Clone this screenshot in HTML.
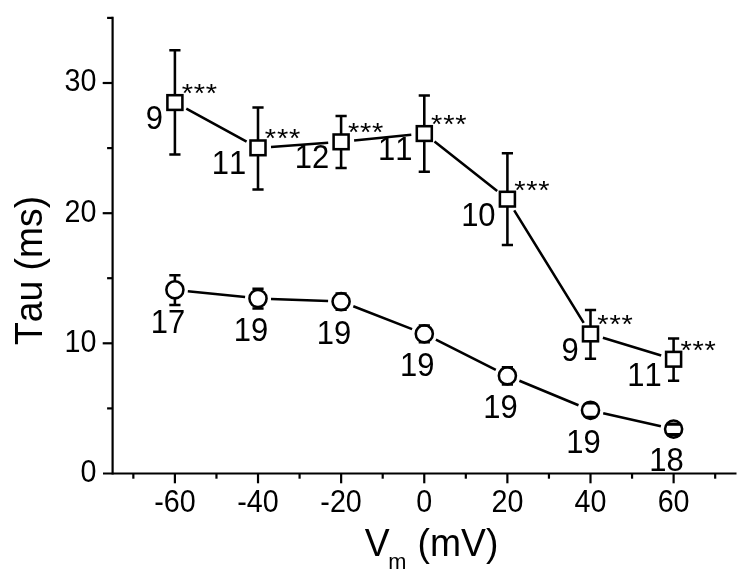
<!DOCTYPE html>
<html><head><meta charset="utf-8"><title>Tau vs Vm</title>
<style>html,body{margin:0;padding:0;background:#fff;}svg{display:block;}text{font-family:"Liberation Sans",Arial,sans-serif;fill:#000;font-kerning:none;}</style></head><body>
<svg width="750" height="579" viewBox="0 0 750 579">
<rect width="750" height="579" fill="#fff"/>
<g stroke="#000" stroke-width="2.2" fill="none" stroke-linecap="butt">
<path d="M112.6 16.8V474.6"/>
<path d="M103.0 473.5H736.5"/>
<path d="M107.1 408.4H112.6"/>
<path d="M102.7 343.3H112.6"/>
<path d="M107.1 278.2H112.6"/>
<path d="M102.7 213.2H112.6"/>
<path d="M107.1 148.1H112.6"/>
<path d="M102.7 83.0H112.6"/>
<path d="M107.1 17.9H112.6"/>
<path d="M133.34 473.5V478.7"/>
<path d="M174.90 473.5V483.3"/>
<path d="M216.46 473.5V478.7"/>
<path d="M258.02 473.5V483.3"/>
<path d="M299.58 473.5V478.7"/>
<path d="M341.14 473.5V483.3"/>
<path d="M382.70 473.5V478.7"/>
<path d="M424.26 473.5V483.3"/>
<path d="M465.82 473.5V478.7"/>
<path d="M507.38 473.5V483.3"/>
<path d="M548.94 473.5V478.7"/>
<path d="M590.50 473.5V483.3"/>
<path d="M632.06 473.5V478.7"/>
<path d="M673.62 473.5V483.3"/>
<path d="M715.18 473.5V478.7"/>
</g>
<g stroke="#000" stroke-width="2.55" fill="none">
<path d="M186.3 108.7L246.6 141.6M271.0 146.9L328.2 142.7M354.1 140.5L411.3 134.8M434.5 141.6L497.2 191.1M514.2 210.3L583.7 322.9M602.9 337.8L661.2 355.5"/>
<path d="M187.8 291.2L245.1 297.1M271.0 299.0L328.1 301.1M353.3 306.3L412.1 329.1M435.9 339.7L495.8 369.9M519.4 380.8L578.5 405.3M603.2 413.2L660.9 426.2"/>
<path d="M174.9 50.2V154.4"/>
<path d="M258.0 107.6V189.4"/>
<path d="M341.1 116.0V168.1"/>
<path d="M424.3 95.4V171.7"/>
<path d="M507.4 153.2V245.1"/>
<path d="M590.5 310.0V358.8"/>
<path d="M673.6 338.5V380.7"/>
<path d="M174.9 275.2V305.0"/>
<path d="M258.0 288.8V308.4"/>
<path d="M341.1 293.4V309.8"/>
<path d="M424.3 325.4V342.3"/>
<path d="M507.4 367.3V384.4"/>
<path d="M590.5 403.3V416.9"/>
<path d="M673.6 424.7V434.1"/>
</g>
<g stroke="#000" stroke-width="2.55" fill="#fff">
<rect x="167.4" y="95.2" width="15.0" height="14.7"/>
<rect x="250.5" y="140.5" width="15.0" height="14.7"/>
<rect x="333.6" y="134.5" width="15.0" height="14.7"/>
<rect x="416.8" y="126.2" width="15.0" height="14.7"/>
<rect x="499.9" y="191.8" width="15.0" height="14.7"/>
<rect x="583.0" y="326.6" width="15.0" height="14.7"/>
<rect x="666.1" y="351.9" width="15.0" height="14.7"/>
<circle cx="174.9" cy="289.8" r="8.55"/>
<circle cx="258.0" cy="298.5" r="8.55"/>
<circle cx="341.1" cy="301.6" r="8.55"/>
<circle cx="424.3" cy="333.8" r="8.55"/>
<circle cx="507.4" cy="375.8" r="8.55"/>
<circle cx="590.5" cy="410.3" r="8.55"/>
<circle cx="673.6" cy="429.1" r="8.55"/>
</g>
<g stroke="#000" stroke-width="2.5" fill="none">
<path d="M169.3 50.2h11.2M169.3 154.4h11.2"/>
<path d="M252.4 107.6h11.2M252.4 189.4h11.2"/>
<path d="M335.5 116.0h11.2M335.5 168.1h11.2"/>
<path d="M418.7 95.4h11.2M418.7 171.7h11.2"/>
<path d="M501.8 153.2h11.2M501.8 245.1h11.2"/>
<path d="M584.9 310.0h11.2M584.9 358.8h11.2"/>
<path d="M668.0 338.5h11.2M668.0 380.7h11.2"/>
<path d="M169.3 275.2h11.2M169.3 305.0h11.2"/>
<path d="M252.4 288.8h11.2M252.4 308.4h11.2"/>
<path d="M335.5 293.4h11.2M335.5 309.8h11.2"/>
<path d="M418.7 325.4h11.2M418.7 342.3h11.2"/>
<path d="M501.8 367.3h11.2M501.8 384.4h11.2"/>
<path d="M584.9 403.3h11.2M584.9 416.9h11.2"/>
<path stroke-width="3.4" d="M667.2 424.1h12.8M667.2 434.7h12.8"/>
</g>
<text transform="translate(96.5 481.9) scale(1 1.1)" font-size="28.7" text-anchor="end">0</text>
<text transform="translate(96.5 351.7) scale(1 1.1)" font-size="28.7" text-anchor="end">10</text>
<text transform="translate(96.5 221.6) scale(1 1.1)" font-size="28.7" text-anchor="end">20</text>
<text transform="translate(96.5 91.4) scale(1 1.1)" font-size="28.7" text-anchor="end">30</text>
<text transform="translate(174.9 511.6) scale(1 1.1)" font-size="28.7" text-anchor="middle">-60</text>
<text transform="translate(258.0 511.6) scale(1 1.1)" font-size="28.7" text-anchor="middle">-40</text>
<text transform="translate(341.1 511.6) scale(1 1.1)" font-size="28.7" text-anchor="middle">-20</text>
<text transform="translate(424.3 511.6) scale(1 1.1)" font-size="28.7" text-anchor="middle">0</text>
<text transform="translate(507.4 511.6) scale(1 1.1)" font-size="28.7" text-anchor="middle">20</text>
<text transform="translate(590.5 511.6) scale(1 1.1)" font-size="28.7" text-anchor="middle">40</text>
<text transform="translate(673.6 511.6) scale(1 1.1)" font-size="28.7" text-anchor="middle">60</text>
<text transform="translate(163.1 129.1) scale(1 1.045)" font-size="31" text-anchor="end">9</text>
<text transform="translate(181.7 101.8) scale(1 0.92)" font-size="29" text-anchor="start" letter-spacing="0.8">***</text>
<text transform="translate(246.2 174.4) scale(1 1.045)" font-size="31" text-anchor="end">11</text>
<text transform="translate(264.8 147.1) scale(1 0.92)" font-size="29" text-anchor="start" letter-spacing="0.8">***</text>
<text transform="translate(329.3 168.4) scale(1 1.045)" font-size="31" text-anchor="end">12</text>
<text transform="translate(347.9 141.1) scale(1 0.92)" font-size="29" text-anchor="start" letter-spacing="0.8">***</text>
<text transform="translate(412.5 160.1) scale(1 1.045)" font-size="31" text-anchor="end">11</text>
<text transform="translate(431.1 132.8) scale(1 0.92)" font-size="29" text-anchor="start" letter-spacing="0.8">***</text>
<text transform="translate(495.6 225.8) scale(1 1.045)" font-size="31" text-anchor="end">10</text>
<text transform="translate(514.2 198.5) scale(1 0.92)" font-size="29" text-anchor="start" letter-spacing="0.8">***</text>
<text transform="translate(578.7 360.6) scale(1 1.045)" font-size="31" text-anchor="end">9</text>
<text transform="translate(597.3 333.3) scale(1 0.92)" font-size="29" text-anchor="start" letter-spacing="0.8">***</text>
<text transform="translate(661.8 385.9) scale(1 1.045)" font-size="31" text-anchor="end">11</text>
<text transform="translate(680.4 358.6) scale(1 0.92)" font-size="29" text-anchor="start" letter-spacing="0.8">***</text>
<text transform="translate(167.9 332.7) scale(1 1.045)" font-size="31" text-anchor="middle">17</text>
<text transform="translate(251.0 341.2) scale(1 1.045)" font-size="31" text-anchor="middle">19</text>
<text transform="translate(334.1 343.6) scale(1 1.045)" font-size="31" text-anchor="middle">19</text>
<text transform="translate(417.3 376.0) scale(1 1.045)" font-size="31" text-anchor="middle">19</text>
<text transform="translate(500.4 418.4) scale(1 1.045)" font-size="31" text-anchor="middle">19</text>
<text transform="translate(583.5 452.6) scale(1 1.045)" font-size="31" text-anchor="middle">19</text>
<text transform="translate(666.6 471.2) scale(1 1.045)" font-size="31" text-anchor="middle">18</text>
<text transform="translate(364.8 556.1) scale(1 1.02)" font-size="37.3">V<tspan font-size="21.8" dx="-1.4" dy="12.8">m</tspan><tspan dx="0.8" dy="-12.8"> (mV)</tspan></text>
<text transform="translate(42 345.1) rotate(-90) scale(1 1.05)" font-size="37.3">Tau (ms)</text>
</svg></body></html>
